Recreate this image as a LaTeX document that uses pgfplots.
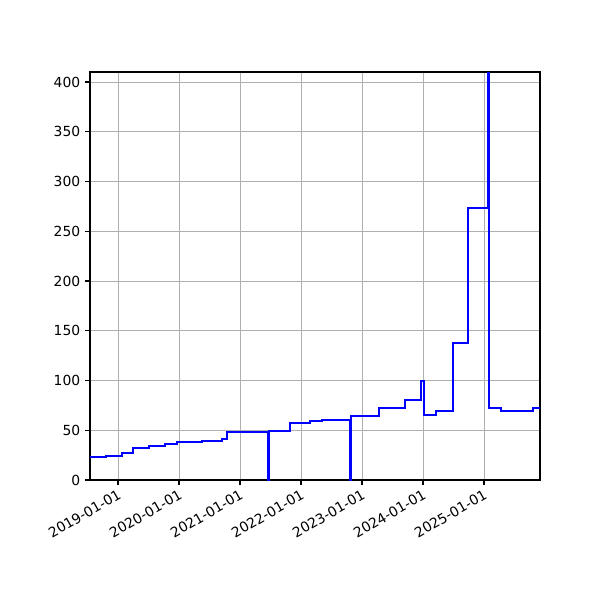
\documentclass[border=0pt]{standalone}
\usepackage{pgfplots}
\pgfplotsset{compat=1.18}
\usepackage{fontspec}
\setmainfont{DejaVu Sans}
\begin{document}
\begin{tikzpicture}
\useasboundingbox (0,0) rectangle (432pt,432pt);
\begin{axis}[
  at={(64.8pt,86.4pt)}, anchor=south west,
  scale only axis, width=324pt, height=293.76pt,
  xmin=2018.541, xmax=2025.918,
  ymin=0, ymax=410,
  xtick={2019,2020,2021,2022,2023,2024,2025},
  xticklabels={2019-01-01,2020-01-01,2021-01-01,2022-01-01,2023-01-01,2024-01-01,2025-01-01},
  ytick={0,50,100,150,200,250,300,350,400},
  xticklabel style={rotate=30, anchor=north east, inner sep=2pt, font=\fontsize{10}{12}\selectfont},
  yticklabel style={font=\fontsize{10}{12}\selectfont},
  /pgf/number format/assume math mode=true,
  grid=major,
  major grid style={color=black!31, line width=0.65pt},
  axis line style={line width=0.8pt},
  tick style={black, line width=0.8pt},
  major tick length=3.5pt,
  tick align=outside,
  xtick pos=bottom, ytick pos=left,
]
\addplot[blue, line width=1.5pt, const plot, mark=none] coordinates {
(2018.541,23.4)
(2018.798,24.4)
(2019.070,27.4)
(2019.251,32.0)
(2019.513,34.5)
(2019.770,36.5)
(2019.962,38.5)
(2020.372,39.5)
(2020.700,41.0)
(2020.782,47.9)
(2021.082,48.5)
(2021.459,0)
(2021.472,49.2)
(2021.820,57.6)
(2022.148,59.3)
(2022.349,60.3)
(2022.803,0)
(2022.816,64.3)
(2023.279,72.4)
(2023.700,80.4)
(2023.972,99.5)
(2024.013,65.3)
(2024.208,69.3)
(2024.492,138.0)
(2024.743,273.0)
(2025.059,1000)
(2025.085,72.0)
(2025.282,69.5)
(2025.797,72.5)
(2025.918,72.5)
};
\end{axis}
\end{tikzpicture}
\end{document}
